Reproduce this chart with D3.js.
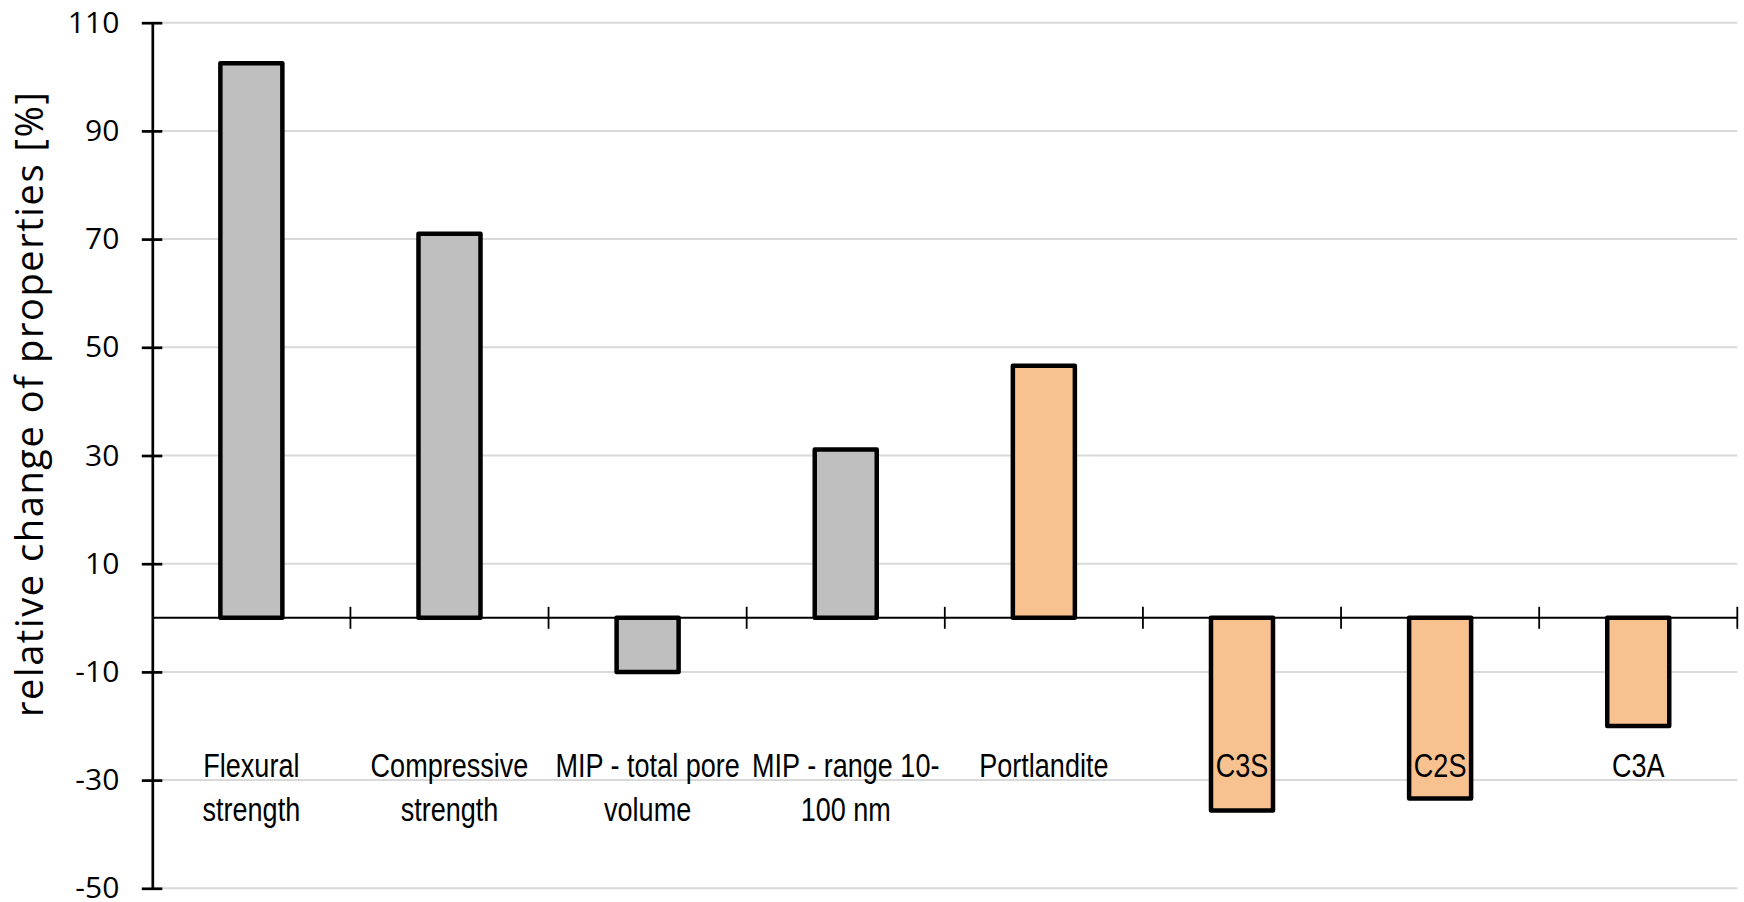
<!DOCTYPE html>
<html>
<head>
<meta charset="utf-8">
<script src="https://cdn.jsdelivr.net/npm/d3@7"></script>
<style>
  body { margin: 0; background: #fff; }
  svg { display: block; }
</style>
</head>
<body>
<svg></svg>
<script>
var w = 1744, h = 902;

// data
var categories = ["Flexural strength", "Compressive strength", "MIP - total pore volume",
  "MIP - range 10-100 nm", "Portlandite", "C3S", "C2S", "C3A"];
var labelLines = [["Flexural", "strength"], ["Compressive", "strength"], ["MIP - total pore", "volume"],
  ["MIP - range 10-", "100 nm"], ["Portlandite"], ["C3S"], ["C2S"], ["C3A"]];
var values = [102.5, 71, -10, 31.1, 46.6, -35.6, -33.4, -20];
var groups = ["test", "test", "test", "test", "phase", "phase", "phase", "phase"];
var yTicks = [-50, -30, -10, 10, 30, 50, 70, 90, 110];

var color = {test: "#bfbfbf", phase: "#f8c190"};

var plotL = 152.3, plotR = 1737.3, plotT = 22.7, plotB = 888.3;

var svg = d3.select("svg").attr("width", w).attr("height", h);

var y = d3.scaleLinear().domain([-50, 110]).range([plotB, plotT]);
var x = d3.scaleBand().domain(categories).range([plotL, plotR])
  .paddingInner(0.687).paddingOuter(0.687 / 2);

// gridlines
svg.append("g").selectAll("line").data(yTicks).join("line")
  .attr("x1", plotL).attr("x2", plotR)
  .attr("y1", d => y(d)).attr("y2", d => y(d))
  .attr("stroke", "#d9d9d9").attr("stroke-width", 2);

// zero line with category ticks
svg.append("line")
  .attr("x1", plotL).attr("x2", plotR)
  .attr("y1", y(0)).attr("y2", y(0))
  .attr("stroke", "#000").attr("stroke-width", 2);

var gap = (x.step() - x.bandwidth()) / 2;
svg.append("g").selectAll("line").data(categories).join("line")
  .attr("x1", d => x(d) + x.bandwidth() + gap)
  .attr("x2", d => x(d) + x.bandwidth() + gap)
  .attr("y1", y(0) - 11).attr("y2", y(0) + 11)
  .attr("stroke", "#000").attr("stroke-width", 1.8);

// bars
svg.append("g").selectAll("rect").data(values).join("rect")
  .attr("x", (d, i) => x(categories[i]))
  .attr("width", x.bandwidth())
  .attr("y", d => y(Math.max(0, d)))
  .attr("height", d => Math.abs(y(d) - y(0)))
  .attr("fill", (d, i) => color[groups[i]])
  .attr("stroke", "#000").attr("stroke-width", 4.5)
  .attr("stroke-linejoin", "round");

// y axis (plain hyphen for negatives, as in the original)
var yAxis = svg.append("g").attr("transform", "translate(" + plotL + ",0)")
  .call(d3.axisLeft(y).tickValues(yTicks).tickFormat(d => String(d))
    .tickSizeInner(10.5).tickSizeOuter(0).tickPadding(22.5));
yAxis.select(".domain").attr("stroke", "#000").attr("stroke-width", 2.7);
yAxis.selectAll(".tick line").attr("x1", 10).attr("stroke", "#000").attr("stroke-width", 2.7);
yAxis.selectAll(".tick text")
  .attr("font-family", "'Open Sans', sans-serif")
  .attr("font-size", 30).attr("fill", "#000");

// y title
svg.append("text")
  .attr("transform", "translate(43,404.5) rotate(-90)")
  .attr("text-anchor", "middle")
  .attr("font-family", "'Open Sans', sans-serif")
  .attr("font-size", 38).attr("fill", "#000")
  .attr("textLength", 625).attr("lengthAdjust", "spacing")
  .text("relative change of properties [%]");

// category labels (narrow face)
var lab = svg.append("g").selectAll("text").data(categories).join("text")
  .attr("transform", d => "translate(" + (x(d) + x.bandwidth() / 2) + ",776.7) scale(0.82,1)")
  .attr("text-anchor", "middle")
  .attr("font-family", "'Liberation Sans', Arial, sans-serif")
  .attr("font-size", 33).attr("fill", "#000");
lab.selectAll("tspan").data((d, i) => labelLines[i]).join("tspan")
  .attr("x", 0).attr("dy", (d, i) => i ? 44.3 : 0)
  .text(d => d);
</script>
</body>
</html>
